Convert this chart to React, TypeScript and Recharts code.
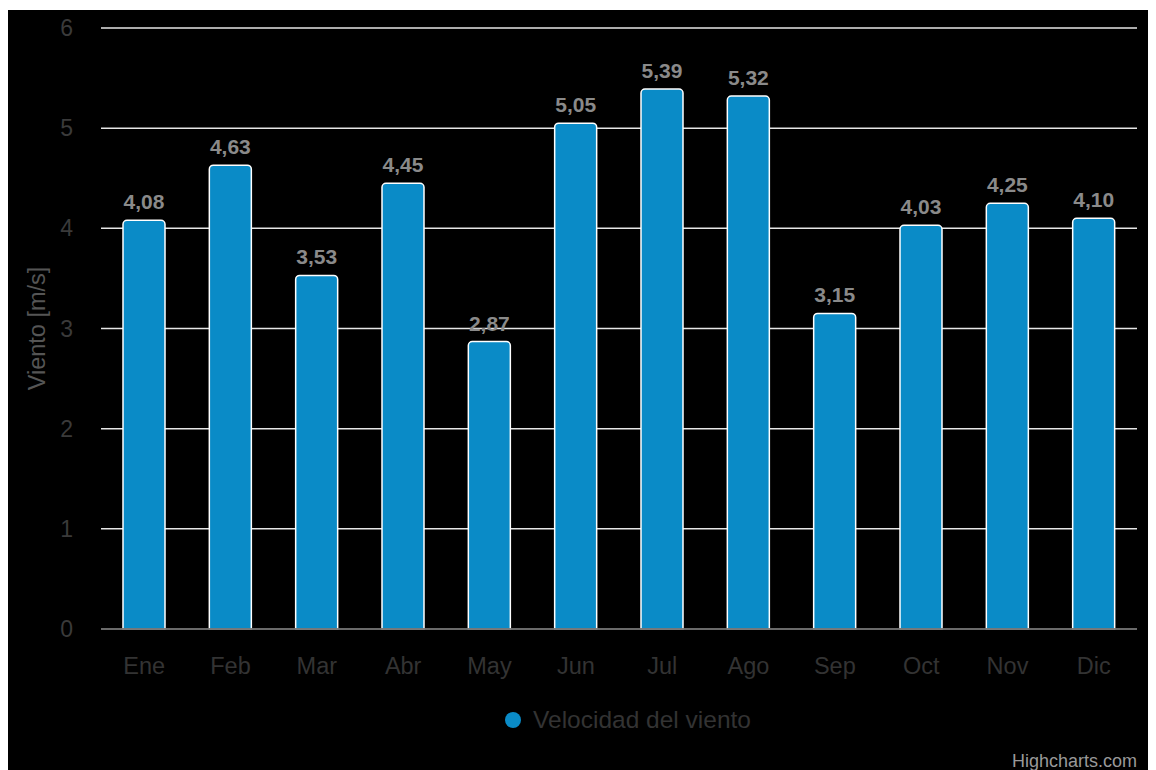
import { BarChart, Bar, XAxis, YAxis, CartesianGrid, Legend, LabelList } from "recharts"

const months = ["Ene", "Feb", "Mar", "Abr", "May", "Jun", "Jul", "Ago", "Sep", "Oct", "Nov", "Dic"]
const windSpeed = [4.08, 4.63, 3.53, 4.45, 2.87, 5.05, 5.39, 5.32, 3.15, 4.03, 4.25, 4.1]
const yTicks = [0, 1, 2, 3, 4, 5, 6]

const seriesName = "Velocidad del viento"
const barColor = "#0a8bc7"
const font = "'Liberation Sans', Arial, sans-serif"

export default function App() {
  const data = months.map((m, i) => ({ month: m, value: windSpeed[i] }))

  return (
    <div style={{ position: "relative", marginTop: 2, width: 1148, height: 760, background: "#000", fontFamily: font }}>
      {/* bottom margin leaves room for the legend height that recharts adds on its own */}
      <BarChart width={1148} height={760} data={data} margin={{ top: 18, right: 19, left: 0, bottom: 111 }}>
        <CartesianGrid horizontal vertical={false} stroke="#e6e6e6" strokeWidth={1.5} />
        <XAxis
          dataKey="month"
          tickLine={false}
          axisLine={{ stroke: "#555", strokeWidth: 1.5 }}
          tick={{ fill: "#333", fontSize: 23.5, fontFamily: font }}
          tickMargin={22}
        />
        <YAxis
          width={93}
          domain={[0, 6]}
          ticks={yTicks}
          tickLine={false}
          axisLine={false}
          tick={{ fill: "#3a3a3a", fontSize: 23, fontFamily: font }}
          tickMargin={22}
          label={{
            value: "Viento [m/s]",
            angle: -90,
            position: "insideLeft",
            offset: 29,
            style: { textAnchor: "middle", fill: "#555", fontSize: 23.5, fontFamily: font },
          }}
        />
        <Legend
          layout="horizontal"
          verticalAlign="middle"
          align="center"
          wrapperStyle={{ top: 696, left: 0, width: 1148 }}
          content={() => (
            <div style={{ display: "flex", justifyContent: "center", alignItems: "center", gap: 12, paddingLeft: 92 }}>
              <span style={{ width: 16, height: 16, borderRadius: 8, background: barColor, display: "inline-block" }} />
              <span style={{ color: "#333", fontSize: 24.5, fontFamily: font }}>{seriesName}</span>
            </div>
          )}
        />
        <Bar
          dataKey="value"
          name={seriesName}
          fill={barColor}
          stroke="#fff"
          strokeWidth={1.5}
          barSize={42}
          radius={[4, 4, 0, 0]}
          isAnimationActive={false}
        >
          <LabelList
            dataKey="value"
            position="top"
            offset={11}
            formatter={(v: number) => v.toFixed(2).replace(".", ",")}
            style={{ fill: "#8a8a8a", fontSize: 21, fontWeight: "bold", fontFamily: font }}
          />
        </Bar>
      </BarChart>
      <span style={{ position: "absolute", right: 19, top: 741, color: "#999", fontSize: 18, fontFamily: font }}>
        Highcharts.com
      </span>
    </div>
  )
}
